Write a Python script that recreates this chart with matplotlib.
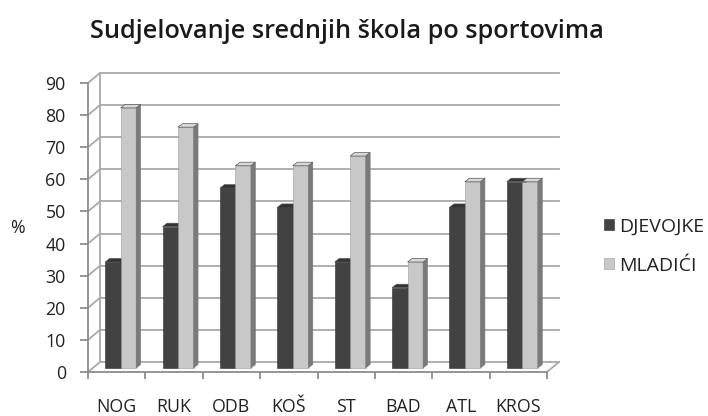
import matplotlib
matplotlib.use("Agg")
import matplotlib.pyplot as plt
from matplotlib.patches import Polygon

categories = ["NOG", "RUK", "ODB", "KOŠ", "ST", "BAD", "ATL", "KROS"]
djevojke = [33, 44, 56, 50, 33, 25, 50, 58]
mladici = [81, 75, 63, 63, 66, 33, 58, 58]
series_names = ["DJEVOJKE", "MLADIĆI"]
yticks = list(range(0, 100, 10))
title = "Sudjelovanje srednjih škola po sportovima"

FONT = "Open Sans"
plt.rcParams["font.family"] = [FONT, "DejaVu Sans"]

W, H = 708, 416
fig = plt.figure(figsize=(W / 100, H / 100), dpi=100)

# pixel geometry of front plane
x0px, x8px = 88, 547
y0px, y90px = 372, 83
xs = (x8px - x0px) / 8.0
ys = (y0px - y90px) / 90.0
xl, xr = -0.25, 8.45
yb, yt = -4, 96
left = (x0px + xl * xs) / W
right = (x0px + xr * xs) / W
bottom = (H - (y0px - yb * ys)) / H
top = (H - (y0px - yt * ys)) / H
ax = fig.add_axes([left, bottom, right - left, top - bottom])
ax.set_xlim(xl, xr)
ax.set_ylim(yb, yt)

# depth offsets
dxb, dyb = 12 / xs, 10 / ys        # back wall offset
sx, sy = 4 / xs, 4 / ys            # bar front shift
ddx, ddy = 4.5 / xs, 3.5 / ys      # bar depth
bw = 0.27

grid_c = "#a9a9a9"
glw = 1.3
for v in yticks:
    ax.plot([dxb, 8 + dxb], [v + dyb, v + dyb], color=grid_c, lw=glw, zorder=1)
    ax.plot([0, dxb], [v, v + dyb], color=grid_c, lw=glw, zorder=1)
ax.plot([dxb, dxb], [dyb, 90 + dyb], color=grid_c, lw=glw, zorder=1)
ax.plot([8, 8 + dxb], [0, dyb], color=grid_c, lw=glw, zorder=1)

dark_front, dark_side, dark_top = "#424242", "#2b2b2b", "#333333"
light_front, light_side, light_top = "#c8c8c8", "#7a7a7a", "#d9d9d9"

centers = [i + 0.5 + sx for i in range(len(categories))]
dark_x = [c - bw / 2 for c in centers]
light_x = [c + bw / 2 for c in centers]

b1 = ax.bar(dark_x, djevojke, width=bw, bottom=sy, color=dark_front,
            edgecolor="#2e2e2e", linewidth=0.4, zorder=3, label=series_names[0])
b2 = ax.bar(light_x, mladici, width=bw, bottom=sy, color=light_front,
            edgecolor="#9a9a9a", linewidth=0.4, zorder=5, label=series_names[1])

def faces(bars, side_c, top_c, zs, zt):
    for r in bars:
        xa = r.get_x()
        xb = xa + r.get_width()
        y0 = r.get_y()
        y1 = y0 + r.get_height()
        ax.add_patch(Polygon([(xb, y0), (xb + ddx, y0 + ddy), (xb + ddx, y1 + ddy), (xb, y1)],
                             closed=True, facecolor=side_c, edgecolor=side_c, lw=0.4, zorder=zs))
        ax.add_patch(Polygon([(xa, y1), (xa + ddx, y1 + ddy), (xb + ddx, y1 + ddy), (xb, y1)],
                             closed=True, facecolor=top_c, edgecolor="#555555", lw=0.5, zorder=zt))

faces(b1, dark_side, dark_top, 2, 2.5)
faces(b2, light_side, light_top, 5.5, 6)

for s in ["top", "right"]:
    ax.spines[s].set_visible(False)
ax.spines["left"].set_position(("data", 0))
ax.spines["left"].set_bounds(0, 90)
ax.spines["bottom"].set_position(("data", 0))
ax.spines["bottom"].set_bounds(0, 8)
for s in ["left", "bottom"]:
    ax.spines[s].set_color("#8c8c8c")
    ax.spines[s].set_linewidth(1.3)
    ax.spines[s].set_zorder(1.5)

ax.set_yticks(yticks)
ax.set_yticklabels([str(v) for v in yticks], fontsize=12.8, color="#222222")
ax.tick_params(axis="y", length=6, width=1.3, color="#8c8c8c", pad=10)
ax.set_xticks(range(len(categories) + 1))
ax.set_xticklabels([])
ax.tick_params(axis="x", which="major", length=5, width=1.3, color="#8c8c8c", direction="out")
ax.set_xticks([i + 0.5 for i in range(len(categories))], minor=True)
ax.set_xticklabels(categories, minor=True, fontsize=12.8, color="#222222")
ax.tick_params(axis="x", which="minor", length=0, pad=19)

fig.text(17 / W, 1 - 228 / H, "%", fontsize=12.8, ha="center", va="center", color="#222222")
fig.text(347 / W, 1 - 32 / H, title, fontsize=18.2, fontweight="semibold", ha="center",
         va="center", color="#1a1a1a")

leg = fig.legend(handles=[b1, b2], labels=series_names, loc="center left",
                 bbox_to_anchor=(604 / W, 1 - 246 / H), frameon=False, fontsize=14,
                 handlelength=0.5, handleheight=0.5, handletextpad=0.3, labelspacing=1.1,
                 borderpad=0, borderaxespad=0)
for t in leg.get_texts():
    t.set_color("#222222")

fig.savefig("out.png", dpi=100)
